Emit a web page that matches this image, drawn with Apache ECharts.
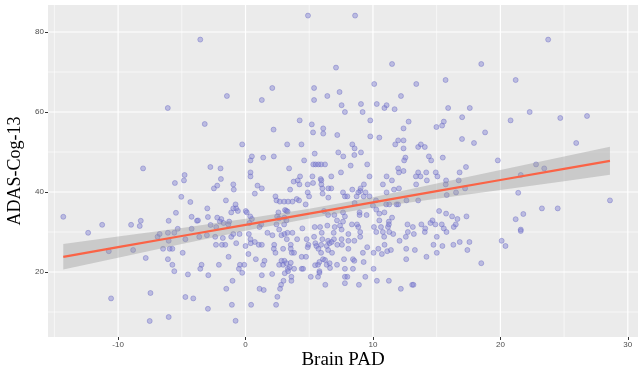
<!DOCTYPE html>
<html>
<head>
<meta charset="utf-8">
<script src="https://cdn.jsdelivr.net/npm/echarts@6/dist/echarts.min.js"></script>
<style>
  html, body { margin: 0; padding: 0; background: #fff; }
  #chart { width: 640px; height: 367px; }
</style>
</head>
<body>
<div id="chart"></div>
<script>
// Brain PAD vs ADAS-Cog-13
const subjects = [
	[-6.1,61],[4.9,84.1],[-3.55,78.1],[7.1,71.1],[2.1,66],[-1.46,64],[1.28,63],[5.38,66],[5.38,63],[6.42,64],[7.38,65],[7.54,61.7],[7.8,60],
	[8.6,84.1],[11.5,72],[18.5,72],[10.1,67],[13.4,67],[15.7,68],[12.2,64],[9.06,62],[10.3,62],[11.07,61.7],[10.9,61],[11.7,60.7],[9.19,60],[15.9,61],[17.6,61],[17.0,58.7],
	[23.75,78.1],[21.2,68],[22.3,60],[24.7,58.5],[26.8,59],
	[-8.04,45.9],[-4.78,44.25],[-4.83,42.9],[-5.54,42.25],[-5.04,38.8],[-4.33,37.5],[-14.3,33.8],[-5.46,34.8],[-4.23,33.8],[-8.22,32.8],[-6.03,32.8],[-3.81,32.8],[-11.25,31.8],[-8.98,31.8],[-8.3,31.5],[-5.32,30.8],[-4.23,30.8],
	[-3.2,57],[2.2,55.6],[4.25,57.9],[5.2,56.9],[5.3,54.9],[6.1,55.9],[6.1,54.6],[7.2,54.25],[-0.26,51.9],[3.27,51.9],[4.39,51.9],[5.43,49.6],[7.28,49.9],[7.67,48.9],[0.5,48.9],[0.39,47.9],[1.39,48.6],[2.22,48.9],[4.6,47.9],
	[5.32,46.9],[5.5,46.9],[5.72,46.9],[5.93,46.9],[6.24,46.9],[-2.76,46.25],[-1.96,45.9],[3.42,45.9],[7.49,44.9],[0.39,44.9],[0.39,43.9],[4.28,43.9],[5.25,43.9],[5.9,43.25],[5.95,42.9],[6.73,43.9],[-1.93,43.25],
	[3.78,42.6],[4.1,42.9],[4.23,41.9],[4.88,41.9],[5.3,42.25],[5.95,41.9],[6.03,40.9],[-0.96,41.9],[-0.92,40.6],[-2.22,41.6],[-2.48,40.9],[0.94,41.6],[1.28,40.9],[3.5,40.6],[4.88,39.9],[4.99,38.9],[6.5,40.9],[6.73,40.9],
	[6.05,39.6],[6.5,38.6],[7.65,39.9],[7.8,38.9],[0.73,39.6],[2.35,38.9],[2.43,37.9],[2.69,37.6],[3.03,37.6],[3.34,37.6],[4.02,38.25],[4.2,37.9],[3.68,37.6],[-1.54,37.9],[4.72,36.9],[-0.78,36.9],[-0.96,35.9],[-0.73,35.9],
	[-0.6,35.25],[-1.12,34.9],[0.02,35.25],[0.1,34.9],[0.37,33.9],[-3.0,35.9],[3.1,35.5],[3.2,35.3],[3.3,35.1],[2.58,34.9],[2.48,33.9],[2.64,33.4],[3.05,33.6],[3.21,32.9],[6.16,35.25],[6.48,34.25],[6.97,34.25],[7.65,34.9],
	[7.8,33.9],[7.18,32.9],[-2.95,33.75],[-2.22,33.6],[-1.9,33.25],[-2.01,32.6],[-1.28,32.6],[-1.72,32.25],[-1.35,31.9],[-3.73,32.9],[-2.74,31.75],[-2.3,31.25],[0.5,33.25],[0.31,32.25],[2.43,31.9],[3.03,31.9],[2.64,30.6],
	[1.23,31.9],[4.46,30.9],[5.43,31.25],[5.85,31.25],[6.42,31.6],[7.0,31.25],[7.42,31.6],[7.54,30.6],[7.65,32.6],[1.1,31.25],
	[9.79,57.9],[12.8,57.6],[12.4,55.9],[15.56,57.6],[15.43,56.6],[14.98,56.25],[18.8,54.9],[9.79,53.9],[10.5,53.6],[11.98,52.9],[12.4,52.9],[11.75,51.9],[12.4,50.9],[16.99,53.25],[17.93,52.25],[8.38,51.9],[8.56,50.9],
	[9.06,49.9],[8.54,49.25],[13.55,51.25],[13.76,51.9],[14.07,51.25],[14.39,48.9],[14.57,47.9],[12.55,48.6],[12.45,47.9],[15.48,48.6],[8.25,46.6],[9.55,46.9],[11.98,45.9],[12.04,44.9],[12.4,45.25],[13.55,44.9],[14.18,44.9],
	[14.93,44.9],[16.8,44.9],[17.3,46.25],[13.37,43.9],[13.73,43.9],[15.06,43.9],[9.73,43.9],[11.07,43.9],[11.49,42.9],[14.23,42.9],[15.74,42.9],[15.71,41.9],[16.73,42.9],[13.39,41.9],[9.29,41.9],[9.03,40.9],[9.0,40.25],
	[8.85,39.9],[10.78,41.9],[8.38,40.6],[12.04,40.9],[11.65,40.6],[9.42,39.9],[11.07,39.9],[16.52,39.9],[17.23,40.9],[15.79,39.25],[7.99,38.9],[8.72,38.9],[9.27,38.9],[9.73,38.9],[10.24,37.9],[13.55,37.9],[8.56,37.25],
	[10.0,36.6],[11.04,36.9],[11.28,36.9],[11.85,36.9],[11.98,36.9],[12.63,37.9],[10.26,35.6],[8.95,34.9],[8.95,34.25],[10.5,34.6],[10.9,34.9],[9.5,34.25],[15.19,35.25],[15.74,34.6],[16.21,33.9],[16.63,33.25],[17.34,33.9],
	[11.5,33.6],[11.25,32.6],[11.25,31.9],[11.18,31.25],[10.5,32.9],[14.67,32.9],[14.51,32.25],[14.9,31.9],[16.5,31.9],[16.34,31.25],[12.71,31.9],[13.13,31.25],[13.8,31.9],[8.35,31.9],[8.75,31.9],[8.85,31.25],[10.08,31.25],
	[10.63,31.25],[15.4,31.9],[15.56,30.9],[14.1,30.9],
	[20.8,57.9],[25.95,52.25],[19.8,47.9],[22.8,46.9],[23.44,45.9],[21.6,44.25],[21.4,39.8],[28.6,37.9],[23.26,35.9],[24.5,35.9],[21.8,34.5],[21.2,33.2],[21.6,30.6],
	[-12.35,29.8],[-10.73,25.2],[-8.82,25.5],[-7.83,23.5],[-6.9,28.8],[-6.74,29.5],[-6.09,29.8],[-5.59,29.8],[-6.03,27.8],[-6.47,25.8],[-5.95,25.8],[-5.74,25.8],[-4.72,28.2],[-4.93,24.8],[-6.09,23.2],[-5.74,21.8],
	[-5.59,20.2],[-4.52,19.4],[-7.46,14.75],[-10.55,13.4],[-4.72,13.75],[-4.1,13.4],[-7.52,7.75],[-6.03,8.75],
	[-3.63,28.8],[-3.03,29.2],[-2.38,28.8],[-1.78,28.5],[-1.12,28.8],[-0.96,29.5],[-0.47,29.5],[0.26,29.5],[1.72,29.8],[2.11,29.2],[2.82,29.2],[3.05,29.5],[3.29,29.8],[3.68,29.8],[3.24,28.2],[4.05,28.2],[4.8,28.2],
	[5.38,28.8],[5.98,29.8],[6.03,28.2],[6.48,27.8],[6.92,29.8],[6.94,28.2],[7.54,28.2],
	[-2.32,26.8],[-1.85,26.8],[-1.59,26.8],[-0.73,27.2],[0,26.5],[0.39,28.2],[0.41,27.2],[0.73,27.5],[1.04,26.8],[1.28,26.8],[2.25,26.8],[2.22,25.8],[2.35,24.8],[2.95,25.8],[3.55,26.8],[3.55,25.8],[3.63,24.8],[3.81,24.8],
	[4.93,26.8],[4.88,26.2],[5.48,27.2],[5.56,26.5],[5.72,25.8],[5.93,26.8],[5.93,24.8],[6.37,26.5],[6.6,27.2],[6.76,27.5],[6.79,24.8],[7.2,26.8],[7.57,26.8],[6.48,25.5],
	[-1.33,23.8],[0.23,24.5],[0.81,23.2],[1.49,22.8],[1.38,21.8],[2.64,21.8],[2.82,22.8],[3.05,22.8],[2.95,21.8],[3.21,22.2],[3.55,22.3],[3.47,21.2],[3.81,20.8],[3.32,20.8],[4.41,23.8],[4.75,23.8],[4.41,20.8],[4.52,20.8],
	[5.46,21.7],[5.69,21.8],[5.8,22.5],[6.08,23.2],[6.24,23],[6.37,21.8],[6.6,22.2],[6.63,21],[7.18,21.8],[7.73,23.2],[7.8,20.8],[5.8,20.2],[5.8,19.8],[-3.45,21.8],[-2.09,21.8],[-0.44,21.8],[-0.1,21.8],[-0.52,20.8],
	[-0.26,19.8],[-3.55,20.8],[-2.92,19.2],[-1.02,17.8],[-1.51,15.8],[1.1,15.8],[1.43,15.5],[1.28,19.2],[2.09,19.5],[3.08,19.7],[2.98,17.8],[2.79,16.8],[2.71,15.8],[2.5,13.8],[2.4,11.8],[0.44,11.8],[-1.07,11.8],
	[-2.95,10.8],[-0.78,7.8],[3.6,18.8],[3.6,17.8],[3.34,20.2],[5.12,18.8],[5.69,18.8],[6.26,16.8],[7.8,17.2],[7.8,18.8],
	[8.07,29.5],[8.07,27.8],[8.07,25.8],[8.54,27.8],[9.0,30],[9.0,28.8],[10.26,30],[10.78,30],[10.88,28.8],[11.28,30],[11.59,29.5],[12.58,28.8],[12.74,30],[13.21,29.5],[14.07,30],[15.01,28.8],[15.77,30],[12.09,27.8],
	[10.91,26.8],[9.55,26.2],[9.21,24.8],[10.05,24.8],[10.42,25.8],[10.7,24.5],[11.12,25.2],[11.41,25.5],[12.61,25.8],[13.29,25.5],[12.61,23.2],[14.2,23.8],[14.75,26.8],[15.45,26.5],[16.31,26.8],[16.81,27.5],[17.57,27.5],
	[17.41,25.5],[15.01,24.8],[8.43,23.2],[8.54,22.8],[9.27,22.5],[8.43,20.8],[10.05,20.8],[7.99,18.8],[9.4,18.8],[8.9,16.8],[10.31,17.8],[11.25,17.8],[12.19,15.8],[13.08,16.8],[13.18,16.8],[18.5,22.2],
	[20.1,27.8],[20.4,26.5],[21.6,30.25]
];

// fitted regression line and 95% band
const fitX = [-14.3, -10, -5, 0, 5, 10, 15, 20, 25, 28.6];
const fitY = [23.8, 26.2, 29.0, 31.8, 34.6, 37.4, 40.2, 43.0, 45.8, 47.8];
const bandHalf = [3.2, 2.65, 2.0, 1.5, 1.2, 1.3, 1.9, 2.5, 3.1, 3.5];

// axis ticks and grid
const xTicks = [-10, 0, 10, 20, 30];
const xMinor = [-15, -5, 5, 15, 25];
const yTicks = [20, 40, 60, 80];
const yMinor = [10, 30, 50, 70];

const X_MIN = -15.5, X_MAX = 30.8;
const Y_MIN = 3.75, Y_MAX = 86.75;

const chart = echarts.init(document.getElementById('chart'), null, { renderer: 'canvas' });

function gridLines(values, width, vertical) {
	return {
		type: 'custom',
		silent: true,
		z: 1,
		label: { show: false },
		dimensions: ['x', 'y'],
		encode: { x: 0, y: 1 },
		data: values.map(v => vertical ? [v, Y_MIN] : [X_MIN, v]),
		renderItem: function (params, api) {
			const cs = params.coordSys;
			const p = api.coord([api.value(0), api.value(1)]);
			const shape = vertical
				? { x1: p[0], y1: cs.y, x2: p[0], y2: cs.y + cs.height }
				: { x1: cs.x, y1: p[1], x2: cs.x + cs.width, y2: p[1] };
			return { type: 'line', shape: shape, style: { stroke: '#ffffff', lineWidth: width } };
		}
	};
}

const labelFont = { fontFamily: 'Liberation Sans', fontSize: 8, color: '#4d4d4d' };

chart.setOption({
	animation: false,
	backgroundColor: '#ffffff',
	grid: {
		left: 48, right: 2, top: 5, bottom: 30,
		outerBoundsMode: 'none', containLabel: false,
		show: true, backgroundColor: '#ebebeb', borderWidth: 0
	},
	xAxis: {
		type: 'value', min: X_MIN, max: X_MAX,
		name: 'Brain PAD', nameLocation: 'middle', nameGap: 14, nameMoveOverlap: false,
		nameTextStyle: { fontFamily: 'Liberation Serif', fontSize: 19, color: '#000' },
		axisLine: { show: false, onZero: false },
		axisTick: { show: true, customValues: xTicks, length: 3, lineStyle: { color: '#333' } },
		axisLabel: Object.assign({ customValues: xTicks, margin: 4 }, labelFont),
		splitLine: { show: false }
	},
	yAxis: {
		type: 'value', min: Y_MIN, max: Y_MAX,
		name: 'ADAS-Cog-13', nameLocation: 'middle', nameGap: 24, nameRotate: 90, nameMoveOverlap: false,
		nameTextStyle: { fontFamily: 'Liberation Serif', fontSize: 18, color: '#000' },
		axisLine: { show: false, onZero: false },
		axisTick: { show: true, customValues: yTicks, length: 3, lineStyle: { color: '#333' } },
		axisLabel: Object.assign({ customValues: yTicks, margin: 4 }, labelFont),
		splitLine: { show: false }
	},
	series: [
		gridLines(xMinor, 0.6, true),
		gridLines(yMinor, 0.6, false),
		gridLines(xTicks, 1.2, true),
		gridLines(yTicks, 1.2, false),
		{
			type: 'scatter',
			z: 2,
			symbolSize: 5,
			data: subjects,
			itemStyle: { color: 'rgba(125,125,210,0.55)', borderColor: 'rgba(105,105,195,0.65)', borderWidth: 0.8 }
		},
		{
			type: 'custom',
			z: 3,
			silent: true,
			data: [[fitX[0], fitY[0]]],
			renderItem: function (params, api) {
				const upper = fitX.map((x, i) => api.coord([x, fitY[i] + bandHalf[i]]));
				const lower = fitX.map((x, i) => api.coord([x, fitY[i] - bandHalf[i]])).reverse();
				return { type: 'polygon', shape: { points: upper.concat(lower) }, style: { fill: 'rgba(153,153,153,0.4)' } };
			}
		},
		{
			type: 'line',
			z: 4,
			showSymbol: false,
			data: fitX.map((x, i) => [x, fitY[i]]),
			lineStyle: { color: '#fa6346', width: 2.2 }
		}
	]
});
</script>
</body>
</html>
